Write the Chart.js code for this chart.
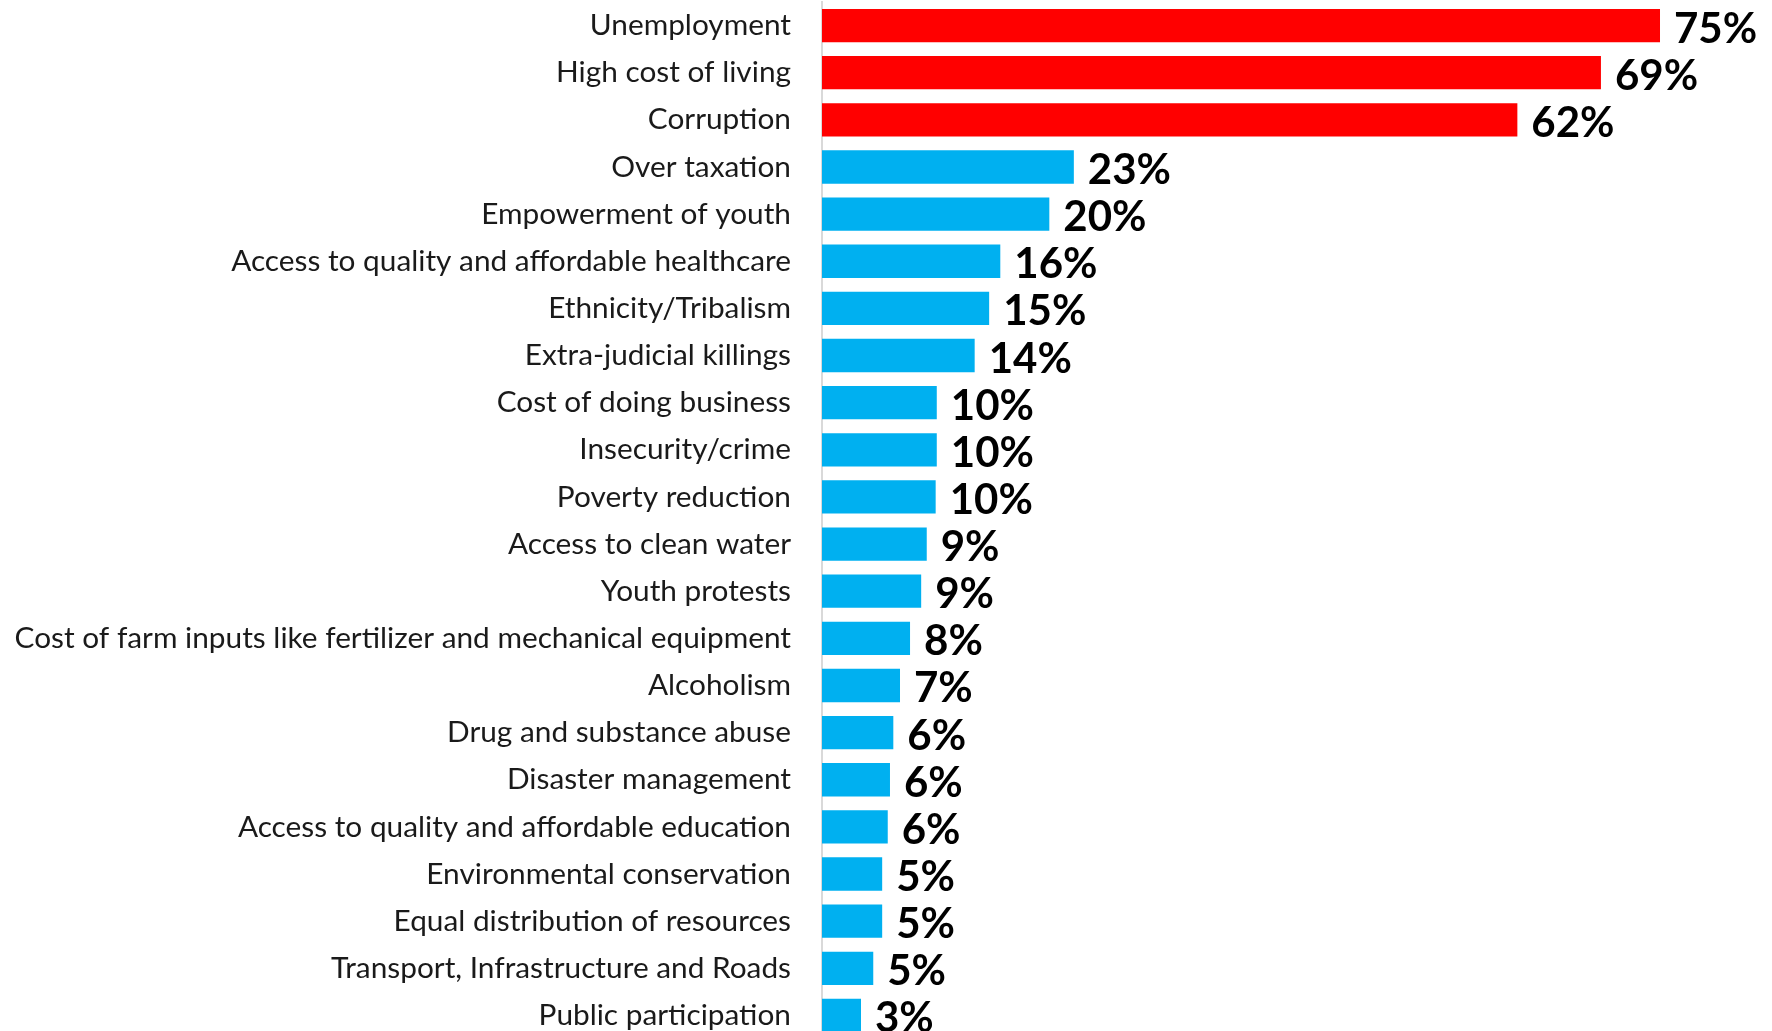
<!DOCTYPE html>
<html>
<head>
<meta charset="utf-8">
<script src="https://cdn.jsdelivr.net/npm/chart.js@4/dist/chart.umd.min.js"></script>
<style>
  html, body { margin: 0; padding: 0; background: #fff; overflow: hidden; }
  #wrap { width: 1772px; height: 1040px; }
</style>
</head>
<body>
<div id="wrap"><canvas id="c" width="1772" height="1040"></canvas></div>
<script>
const categories = [
  "Unemployment",
  "High cost of living",
  "Corruption",
  "Over taxation",
  "Empowerment of youth",
  "Access to quality and affordable healthcare",
  "Ethnicity/Tribalism",
  "Extra-judicial killings",
  "Cost of doing business",
  "Insecurity/crime",
  "Poverty reduction",
  "Access to clean water",
  "Youth protests",
  "Cost of farm inputs like fertilizer and mechanical equipment",
  "Alcoholism",
  "Drug and substance abuse",
  "Disaster management",
  "Access to quality and affordable education",
  "Environmental conservation",
  "Equal distribution of resources",
  "Transport, Infrastructure and Roads",
  "Public participation"
];
const values = [75.2, 69.9, 62.4, 22.6, 20.4, 16.0, 15.0, 13.7, 10.3, 10.3, 10.2, 9.4, 8.9, 7.9, 7.0, 6.4, 6.1, 5.9, 5.4, 5.4, 4.6, 3.5];
const valueText = ["75%", "69%", "62%", "23%", "20%", "16%", "15%", "14%", "10%", "10%", "10%", "9%", "9%", "8%", "7%", "6%", "6%", "6%", "5%", "5%", "5%", "3%"];
const topCount = 3; // first three highlighted in red
const RED = "#FF0000", BLUE = "#00B0F0";
const barColors = values.map((v, i) => i < topCount ? RED : BLUE);

const valueLabels = {
  id: "valueLabels",
  afterDatasetsDraw(chart) {
    const ctx = chart.ctx;
    const meta = chart.getDatasetMeta(0);
    ctx.save();
    ctx.font = "bold 42px Lato";
    ctx.fillStyle = "#000";
    ctx.textAlign = "left";
    ctx.textBaseline = "alphabetic";
    meta.data.forEach((bar, i) => {
      ctx.fillText(valueText[i], bar.x + 14, bar.y + 17);
    });
    ctx.restore();
  }
};

function draw() {
  new Chart(document.getElementById("c"), {
    type: "bar",
    data: {
      labels: categories,
      datasets: [{
        data: values,
        backgroundColor: barColors,
        borderWidth: 0,
        categoryPercentage: 1,
        barPercentage: 0.707
      }]
    },
    options: {
      indexAxis: "y",
      responsive: false,
      animation: false,
      layout: { padding: { top: 2, bottom: 1, left: 0, right: 0 } },
      plugins: { legend: { display: false }, tooltip: { enabled: false } },
      scales: {
        x: { display: false, min: 0, max: 85.25 },
        y: {
          afterFit(scale) {
            scale.width = 822;
            scale.paddingTop = 0;
            scale.paddingBottom = 0;
          },
          grid: { display: false, drawTicks: false },
          border: { display: true, color: "#d9d9d9", width: 2 },
          ticks: {
            padding: 31,
            color: "#1a1a1a",
            font: { family: "Lato", size: 29.8 },
            autoSkip: false
          }
        }
      }
    },
    plugins: [valueLabels]
  });
}
Promise.all([
  document.fonts.load("29.8px Lato"),
  document.fonts.load("bold 42px Lato")
]).then(draw, draw);
</script>
</body>
</html>
